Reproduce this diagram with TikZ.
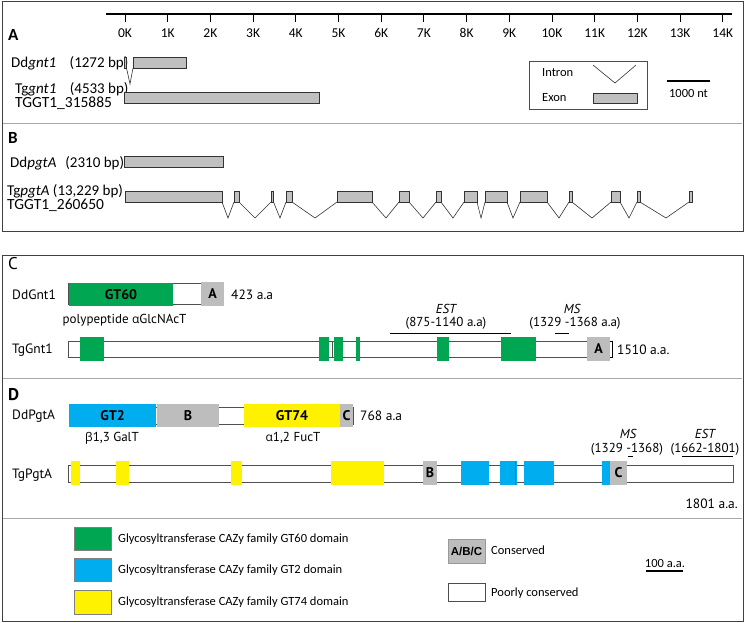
\documentclass[tikz,border=0pt]{standalone}
\usepackage{fontspec}
\setmainfont{Carlito}
\newfontfamily\myr{PT Sans}
\newfontfamily\grk{Open Sans}
\newfontfamily\arl{Liberation Sans}
\definecolor{exongrey}{HTML}{C0C0C0}
\definecolor{consgrey}{HTML}{BDBDBD}
\definecolor{gtgreen}{HTML}{00A651}
\definecolor{gtblue}{HTML}{00AEEF}
\definecolor{gtyellow}{HTML}{FFF200}
\definecolor{framec}{HTML}{404040}
\definecolor{divc}{HTML}{A8A8A8}
\definecolor{barline}{HTML}{505050}
\tikzset{
  frame/.style={draw=framec, line width=1pt},
  divider/.style={draw=divc, line width=1pt},
  exon/.style={draw=black!80, fill=exongrey, line width=0.8pt, inner sep=0pt, outer sep=0pt},
  intron/.style={draw=black!80, line width=0.6pt},
  lbl/.style={inner sep=0pt, anchor=base west, font=\fontsize{15}{17}\selectfont},
  idl/.style={inner sep=0pt, anchor=base west, font=\fontsize{15.5}{17}\selectfont},
  tick/.style={inner sep=0pt, font=\fontsize{13.5}{15}\selectfont},
  panel/.style={inner sep=0pt, anchor=west, font=\fontsize{17}{19}\selectfont\bfseries},
  plbl/.style={inner sep=0pt, anchor=west, font=\myr\fontsize{13.5}{16}\selectfont},
  plblc/.style={inner sep=0pt, font=\myr\fontsize{13}{15}\selectfont},
  bar/.style={draw=barline, fill=white, line width=0.8pt, inner sep=0pt, outer sep=0pt},
  dom/.style={inner sep=0pt, outer sep=0pt, font=\myr\fontsize{14}{16}\selectfont\bfseries},
  leg/.style={inner sep=0pt, anchor=west, font=\fontsize{12.5}{15}\selectfont}
}
\newcommand\boxat[6][exon]{\node[#1, minimum width={(#4-#3)*1pt}, minimum height={(#6-#5)*1pt}] (#2) at ({(#3+#4)/2},{(#5+#6)/2}) {};}
\newcommand\boxtxt[7][exon]{\node[#1, minimum width={(#4-#3)*1pt}, minimum height={(#6-#5)*1pt}] (#2) at ({(#3+#4)/2},{(#5+#6)/2}) {#7};}
\begin{document}
\begin{tikzpicture}[x=1pt,y=-1pt]
\useasboundingbox (0,0) rectangle (745,622);
% frames
\draw[frame] (2,1) rectangle (743,231);
\draw[divider] (3,123) -- (742,123);
\draw[frame] (2,255) rectangle (743,621);
\draw[divider] (3,378) -- (742,378);
\draw[divider] (3,518) -- (742,518);

% ===== Panel A =====
\draw[line width=1.2pt] (106,14) -- (732,14);
\foreach \i in {0,...,14}{
  \draw[line width=1pt] ({125+\i*42.7},14) -- ({125+\i*42.7},22);
  \node[tick] (tk\i) at ({125+\i*42.7},33) {\i K};
}
\node[panel] (pA) at (8,35) {A};
\node[lbl] (ddgnt) at (11,67) {Dd\textit{gnt1}\hspace{0.9em}(1272 bp)};
\boxat{dg1}{124}{126.5}{57}{68}
\boxat{dg2}{133}{186}{57}{68}
\coordinate (dgv) at (130,84);
\draw[intron] (dg1.south east) -- (dgv) -- (dg2.south west);
\node[lbl] (tggnt) at (15,93) {Tg\textit{gnt1}\hspace{0.9em}(4533 bp)};
\node[idl] (tggntid) at (15,107.5) {TGGT1\_315885};
\boxat{tg1}{124}{319}{92}{103}
% legend A
\draw[draw=black!70, line width=0.8pt] (529,61) rectangle (647,109);
\node[leg] (lint) at (542,73) {Intron};
\coordinate (li1) at (593,65); \coordinate (li2) at (615,83); \coordinate (li3) at (636,65);
\draw[intron] (li1) -- (li2) -- (li3);
\node[leg] (lexn) at (542,98) {Exon};
\boxat{lexbox}{593}{637}{93}{103}
\draw[line width=1.2pt] (667,81) -- (710,81);
\node[leg, anchor=center] (ntsc) at (688.5,93) {1000 nt};

% ===== Panel B =====
\node[panel] (pB) at (8,138) {B};
\node[lbl] (ddpgt) at (10,167) {Dd\textit{pgtA}\hspace{0.6em}(2310 bp)};
\boxat{dp1}{124}{223}{156}{167}
\node[lbl] (tgpgt) at (7,195) {Tg\textit{pgtA} (13,229 bp)};
\node[idl] (tgpgtid) at (7,209) {TGGT1\_260650};
\foreach \a/\b [count=\i] in {125/222,234/239,271/273.5,286/292,337/372,399/409,436/441,464/477,485/507,520/547,569/572,611/620,637/640,689/692}{
  \boxat{t\i}{\a}{\b}{191}{202}
}
\foreach \v [count=\i, evaluate=\i as \j using int(\i+1)] in {228,255,280,315,386,423,453,481,513,559,592,629,666}{
  \coordinate (v\i) at (\v,218);
  \draw[intron] (t\i.south east) -- (v\i) -- (t\j.south west);
}

% ===== Panel C =====
\node[panel, font=\myr\fontsize{17}{19}\selectfont] (pC) at (8,264) {C};
\node[plbl] (ddgnt1) at (12,295) {DdGnt1};
\boxat[bar]{cbar1}{68.5}{201}{283.5}{304.5}
\boxtxt[dom, fill=gtgreen]{cgt60}{69}{173}{283}{305.5}{GT60}
\boxtxt[dom, fill=consgrey]{cA1}{201}{224}{282}{306}{A}
\node[plbl] (c423) at (231,295) {423 a.a};
\node[plblc] (cpp) at (124.5,320) {polypeptide {\grk\fontsize{12}{15}\selectfont α}GlcNAcT};
\node[plbl] (tggnt1) at (12,350) {TgGnt1};
\boxat[bar]{cbar2}{68.5}{587}{341}{357}
\foreach \a/\b [count=\i] in {80/104,319/329,334/343,356/360,437/449,501/536}{
  \boxat[dom, fill=gtgreen]{cg\i}{\a}{\b}{337}{361}
}
\draw[draw=barline, line width=0.6pt] (332,341) -- (332,357);
\boxtxt[dom, fill=consgrey]{cA2}{587}{610}{337}{361}{A}
\draw[line width=0.7pt] (610,341) -- (612,341) -- (612,357) -- (610,357);
\node[plbl] (c1510) at (617,350) {1510 a.a.};
\node[plblc] (cest) at (446,309) {\itshape EST};
\node[plblc] (cestr) at (446,323) {(875-1140 a.a)};
\draw[line width=0.8pt] (390,333) -- (511,333);
\node[plblc] (cms) at (572,309) {\itshape MS};
\node[plblc] (cmsr) at (575,323) {(1329 -1368 a.a)};
\draw[line width=0.8pt] (555,333) -- (569,333);

% ===== Panel D =====
\node[panel, font=\myr\fontsize{17}{19}\selectfont\bfseries] (pD) at (8,395) {D};
\node[plbl] (ddpgta) at (12,416) {DdPgtA};
\boxat[bar]{dbar1}{69}{353}{407}{424}
\boxtxt[dom, fill=gtblue]{dgt2}{69}{156}{404}{427}{GT2}
\boxtxt[dom, fill=consgrey]{dB1}{157}{219}{404}{427}{B}
\boxtxt[dom, fill=gtyellow]{dgt74}{244}{340}{404}{427}{GT74}
\boxtxt[dom, fill=consgrey]{dC1}{340}{353}{404}{427}{C}
\node[plbl] (d768) at (360,416) {768 a.a};
\node[plblc] (dgal) at (112,438) {{\grk\fontsize{12}{15}\selectfont β}1,3 GalT};
\node[plblc] (dfuc) at (293,438) {{\grk\fontsize{12}{15}\selectfont α}1,2 FucT};
\node[plbl] (tgpgta) at (12,475) {TgPgtA};
\boxat[bar]{dbar2}{68.5}{733}{465}{482}
\foreach \a/\b [count=\i] in {71/80,116/129,231/242,331/384}{
  \boxat[dom, fill=gtyellow]{dy\i}{\a}{\b}{461}{485}
}
\boxtxt[dom, fill=consgrey]{dB2}{423}{437}{461}{485}{B}
\foreach \a/\b [count=\i] in {461/489,500/517,524/554,602/610}{
  \boxat[dom, fill=gtblue]{db\i}{\a}{\b}{461}{485}
}
\draw[draw=black!60, line width=0.6pt] (515,461) -- (515,485);
\boxtxt[dom, fill=consgrey]{dC2}{610}{627}{461}{485}{C}
\node[plblc] (dms) at (628,434) {\itshape MS};
\node[plblc] (dmsr) at (627,449) {(1329 -1368)};
\draw[line width=0.8pt] (628,456) -- (633,456);
\node[plblc] (dest) at (705,434) {\itshape EST};
\node[plblc] (destr) at (705,449) {(1662-1801)};
\draw[line width=0.8pt] (682,456) -- (733,456);
\node[plbl, anchor=east] (d1801) at (738,504) {1801 a.a.};

% ===== Legend =====
\boxat[draw=black!50, fill=gtgreen, line width=0.5pt]{lg1}{74}{111}{527}{550}
\node[leg] (lt1) at (118,539) {Glycosyltransferase CAZy family GT60 domain};
\boxat[draw=black!50, fill=gtblue, line width=0.5pt]{lg2}{74}{111}{558}{581}
\node[leg] (lt2) at (118,570) {Glycosyltransferase CAZy family GT2 domain};
\boxat[draw=black!50, fill=gtyellow, line width=0.5pt]{lg3}{74}{111}{590}{614}
\node[leg] (lt3) at (118,602) {Glycosyltransferase CAZy family GT74 domain};
\node[draw=black!40, fill=consgrey, line width=0.5pt, inner sep=0pt, minimum width=37pt, minimum height=24pt, font=\arl\fontsize{11.5}{13}\selectfont\bfseries] (labc) at (466.5,551) {A/B/C};
\node[leg] (lcons) at (491,550) {Conserved};
\boxat[draw=black!70, fill=white, line width=0.7pt]{lpc}{448}{485}{583}{601}
\node[leg] (lpoor) at (491,593) {Poorly conserved};
\node[leg, anchor=center] (l100) at (665,563) {100 a.a.};
\draw[line width=1.2pt] (646,571) -- (683,571);
\end{tikzpicture}
\end{document}
